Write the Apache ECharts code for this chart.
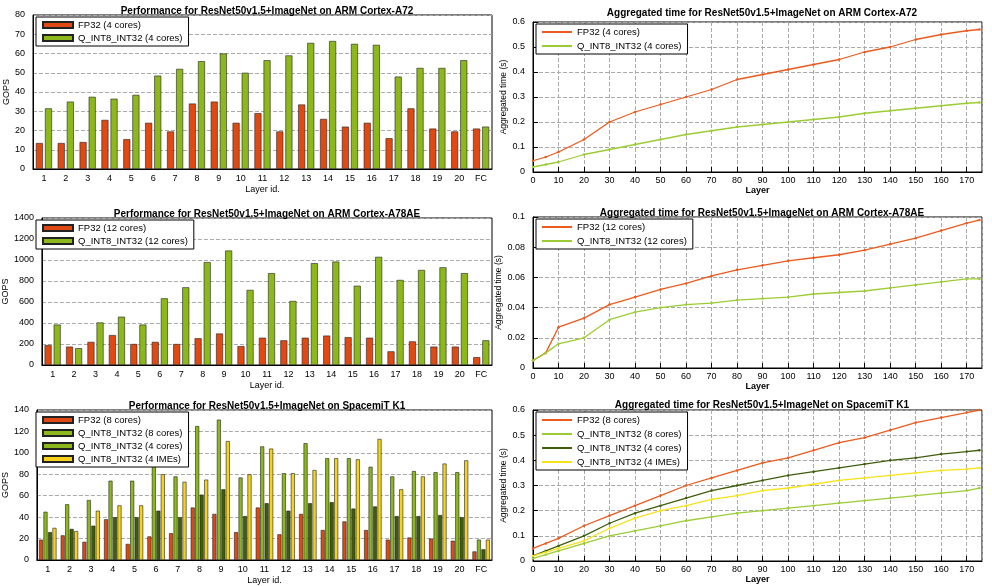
<!DOCTYPE html><html><head><meta charset="utf-8">
<script src="https://cdn.jsdelivr.net/npm/echarts@6/dist/echarts.min.js"></script>
<style>body{margin:0}#c{width:992px;height:586px}</style></head><body><div id="c"></div><script>
const layers=['1','2','3','4','5','6','7','8','9','10','11','12','13','14','15','16','17','18','19','20','FC'];
const a72_fp32=[13.5,13.5,14,25.5,15.5,24,19.5,34,35,24,29,19.5,33.5,26,22,24,16,31.5,21,19.5,21];
const a72_int8=[31.5,35,37.5,36.5,38.5,48.5,52,56,60,50,56.5,59,65.5,66.5,65,64.5,48,52.5,52.5,56.5,22];
const a78_fp32=[190,175,220,285,200,220,200,255,300,180,260,235,260,280,265,260,130,225,175,175,75];
const a78_int8=[385,160,405,460,385,635,740,980,1090,715,875,610,970,985,755,1030,810,905,930,875,235];
const k1_fp32=[19,23,17,38,15,22,25,49,43,26,49,24,43,28,36,28,19,21,20,18,8];
const k1_int8_8=[45,52,56,74,74,89,78,125,131,77,106,81,109,95,95,87,78,83,82,82,19];
const k1_int8_4=[26,29,32,40,40,46,40,61,66,41,53,46,53,54,48,50,41,41,42,40,10];
const k1_ime=[30,27,46,51,51,80,73,75,111,80,104,81,84,95,94,113,66,78,90,93,19];
const tLayers=[0,5,10,20,30,40,50,60,70,80,90,100,110,120,130,140,150,160,170,175];
const tA72_fp32=[0.045,0.06,0.08,0.13,0.2,0.24,0.27,0.3,0.33,0.37,0.39,0.41,0.43,0.45,0.48,0.5,0.53,0.55,0.565,0.57];
const tA72_int8=[0.02,0.03,0.04,0.07,0.09,0.11,0.13,0.15,0.165,0.18,0.19,0.2,0.21,0.22,0.235,0.245,0.255,0.265,0.275,0.278];
const tA78_fp32=[0.005,0.01,0.027,0.033,0.042,0.047,0.052,0.056,0.061,0.065,0.068,0.071,0.073,0.075,0.078,0.082,0.086,0.091,0.096,0.098];
const tA78_int8=[0.005,0.01,0.016,0.02,0.032,0.037,0.04,0.042,0.043,0.045,0.046,0.047,0.049,0.05,0.051,0.053,0.055,0.057,0.059,0.059];
const tK1_fp32=[0.05,0.07,0.09,0.14,0.18,0.22,0.26,0.3,0.33,0.36,0.39,0.41,0.44,0.47,0.49,0.52,0.55,0.57,0.59,0.6];
const tK1_int8_8=[0.01,0.025,0.04,0.07,0.1,0.12,0.14,0.16,0.175,0.19,0.2,0.21,0.22,0.23,0.24,0.25,0.26,0.27,0.28,0.29];
const tK1_int8_4=[0.02,0.04,0.06,0.1,0.15,0.19,0.22,0.25,0.28,0.3,0.32,0.34,0.355,0.37,0.385,0.4,0.41,0.425,0.435,0.44];
const tK1_ime=[0.02,0.035,0.05,0.08,0.13,0.17,0.2,0.22,0.245,0.26,0.28,0.29,0.305,0.32,0.33,0.34,0.35,0.36,0.365,0.37];
const C={fp:'#e04a12',g:'#8cb81c',dg:'#3f5e0c',y:'#f6d21c',lfp:'#ec5a1e',lg:'#9ccc34',ldg:'#3f5e0c',ly:'#f7e21a'};
const F='Liberation Sans';
const titles=['Performance for ResNet50v1.5+ImageNet on ARM Cortex-A72','Aggregated time for ResNet50v1.5+ImageNet on ARM Cortex-A72','Performance for ResNet50v1.5+ImageNet on ARM Cortex-A78AE','Aggregated time for ResNet50v1.5+ImageNet on ARM Cortex-A78AE','Performance for ResNet50v1.5+ImageNet on SpacemiT K1','Aggregated time for ResNet50v1.5+ImageNet on SpacemiT K1'];
const grids=[{left:33,top:15,width:459,height:154},{left:533,top:22,width:449,height:150},{left:33,top:218,width:459,height:147},{left:533,top:217,width:449,height:151},{left:33,top:410,width:459,height:150},{left:533,top:410,width:449,height:151}];
const titlePos=[[262,1],[757,3],[262,204],[757,203],[262,396],[757,395]];
const bars=[[['FP32 (4 cores)',a72_fp32,C.fp],['Q_INT8_INT32 (4 cores)',a72_int8,C.g]],[['FP32 (12 cores)',a78_fp32,C.fp],['Q_INT8_INT32 (12 cores)',a78_int8,C.g]],[['FP32 (8 cores)',k1_fp32,C.fp],['Q_INT8_INT32 (8 cores)',k1_int8_8,C.g],['Q_INT8_INT32 (4 cores)',k1_int8_4,C.dg],['Q_INT8_INT32 (4 IMEs)',k1_ime,C.y]]];
const lines=[[['FP32 (4 cores)',tA72_fp32,C.lfp],['Q_INT8_INT32 (4 cores)',tA72_int8,C.lg]],[['FP32 (12 cores)',tA78_fp32,C.lfp],['Q_INT8_INT32 (12 cores)',tA78_int8,C.lg]],[['FP32 (8 cores)',tK1_fp32,C.lfp],['Q_INT8_INT32 (8 cores)',tK1_int8_8,C.lg],['Q_INT8_INT32 (4 cores)',tK1_int8_4,C.ldg],['Q_INT8_INT32 (4 IMEs)',tK1_ime,C.ly]]];
const barY=[[0,80,10],[0,1400,200],[0,140,20]];
const lineY=[[0,0.6,0.1],[0,0.1,0.02],[0,0.6,0.1]];
const opt={animation:false,textStyle:{fontFamily:F},title:[],grid:[],xAxis:[],yAxis:[],series:[],legend:[]};
const ax={color:'#000',fontSize:9,fontFamily:F};
const split={show:true,lineStyle:{color:'#aaa',type:'dashed'}};
for(let i=0;i<6;i++){
 opt.title.push({text:titles[i],left:titlePos[i][0],top:titlePos[i][1],textAlign:'center',textStyle:{fontSize:10,fontWeight:'bold',color:'#000',fontFamily:F}});
 opt.grid.push(Object.assign({show:true,borderColor:'#000',borderWidth:1},grids[i]));
 const r=Math.floor(i/2), isBar=i%2===0;
 if(isBar){
  opt.xAxis.push({type:'category',gridIndex:i,data:layers,name:'Layer id.',nameLocation:'middle',nameGap:16,nameTextStyle:ax,axisLabel:Object.assign({margin:5},ax),axisTick:{alignWithLabel:true,inside:true},axisLine:{lineStyle:{color:'#000'}}});
  const y=barY[r];
  opt.yAxis.push({type:'value',gridIndex:i,min:y[0],max:y[1],interval:y[2],name:'GOPS',nameLocation:'middle',nameGap:y[1]>200?26:18,nameTextStyle:ax,axisLabel:Object.assign({formatter:v=>String(v)},ax),axisTick:{inside:true},axisLine:{show:true,lineStyle:{color:'#000'}},splitLine:split});
  const names=[];
  const four=bars[r].length>2;
  bars[r].forEach(b=>{names.push({name:b[0],icon:'rect'});opt.series.push({type:'bar',name:b[0],xAxisIndex:i,yAxisIndex:i,data:b[1],barWidth:four?4:7,barGap:four?'12%':'30%',barCategoryGap:'20%',itemStyle:{color:b[2],borderColor:'#222',borderWidth:0.6}});});
  opt.legend.push({data:names,left:grids[i].left+3,top:grids[i].top+2,orient:'vertical',itemWidth:30,itemHeight:6,itemGap:3,padding:[3,6],borderColor:'#000',borderWidth:1,backgroundColor:'#fff',textStyle:{fontSize:9.5,fontFamily:F,color:'#000'}});
 } else {
  opt.xAxis.push({type:'value',gridIndex:i,min:0,max:176,interval:10,name:'Layer',nameLocation:'middle',nameGap:14,nameTextStyle:Object.assign({},ax,{fontWeight:'bold'}),axisLabel:Object.assign({margin:4,showMaxLabel:false},ax),axisTick:{inside:true},axisLine:{lineStyle:{color:'#000'}},splitLine:split});
  const y=lineY[r];
  opt.yAxis.push({type:'value',gridIndex:i,min:y[0],max:y[1],interval:y[2],name:'Aggregated time (s)',nameLocation:'middle',nameGap:24,nameTextStyle:Object.assign({},ax,{fontSize:8.5}),axisLabel:ax,axisTick:{inside:true},axisLine:{show:true,lineStyle:{color:'#000'}},splitLine:split});
  const names=[];
  lines[r].forEach(l=>{names.push({name:l[0],icon:'rect',itemStyle:{color:l[2],borderWidth:0}});opt.series.push({type:'line',name:l[0],xAxisIndex:i,yAxisIndex:i,data:tLayers.map((x,k)=>[x,l[1][k]]),symbol:'circle',symbolSize:2.5,lineStyle:{color:l[2],width:1.3},itemStyle:{color:l[2]}});});
  opt.legend.push({data:names,left:grids[i].left+3,top:grids[i].top+2,orient:'vertical',itemWidth:30,itemHeight:2,itemGap:4,padding:[3,6],borderColor:'#000',borderWidth:1,backgroundColor:'#fff',textStyle:{fontSize:9.5,fontFamily:F,color:'#000'}});
 }
}
echarts.init(document.getElementById('c')).setOption(opt);
</script></body></html>
